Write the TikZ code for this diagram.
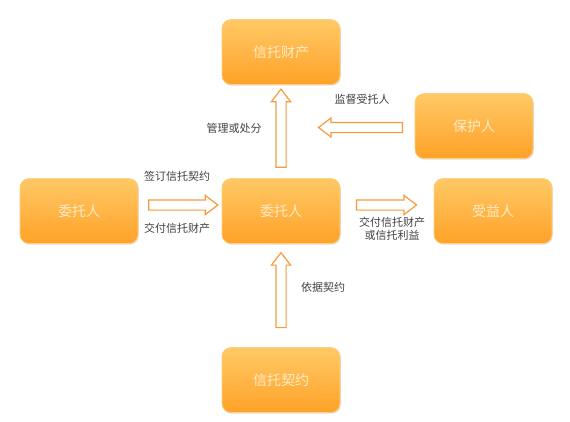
\documentclass[tikz,border=0pt]{standalone}
\usepackage{fontspec}
\setmainfont{Noto Sans CJK SC}
\usetikzlibrary{shapes.arrows, shadows, calc}
\definecolor{boxtop}{HTML}{FFC966}
\definecolor{boxbot}{HTML}{FFA228}
\definecolor{boxline}{HTML}{FFCF80}
\definecolor{arrline}{HTML}{F79A3E}
\definecolor{boxtext}{HTML}{FFEBC8}
\definecolor{labtext}{HTML}{404040}

\begin{document}
\begin{tikzpicture}[x=1pt, y=-1pt,
  party/.style={rectangle, rounded corners=9pt, minimum width=118pt, minimum height=65pt,
    top color=boxtop, bottom color=boxbot, draw=boxline, line width=0.6pt,
    drop shadow={opacity=0.25, shadow xshift=0.8pt, shadow yshift=-1.2pt},
    text=boxtext, font=\fontsize{14}{16}\selectfont},
  hollow/.style={single arrow, draw=arrline, fill=white, line width=1.2pt,
    inner xsep=0pt, inner ysep=4.5pt, minimum width=18pt,
    single arrow head extend=4.5pt, single arrow tip angle=75,
    sloped, allow upside down},
  lab/.style={text=labtext, font=\fontsize{11}{13}\selectfont, inner sep=0pt}]
\useasboundingbox (0,0) rectangle (570,421);

% the five parties
\node[party] (prop) at (281, 52) {信托财产};
\node[party] (mid) at (281, 211) {委托人};
\node[party] (settlor) at (79, 211) {委托人};
\node[party] (ben) at (493, 211) {受益人};
\node[party] (prot) at (474, 126) {保护人};
\node[party] (deed) at (281, 380) {信托契约};

% hollow arrows between them
\path (mid.north) -- node[hollow, minimum height=78pt] (upone) {} (prop.south);
\path ([yshift=-1.5pt]prot.west) -- node[hollow, pos=0.38, minimum height=84pt] (leftarr) {} ([yshift=-1.5pt]prot.west -| upone.center);
\path ([yshift=6pt]settlor.east) -- node[hollow, minimum height=69pt] (rightone) {} ([yshift=6pt]mid.west);
\path ([yshift=6pt]mid.east) -- node[hollow, pos=0.46, minimum height=60pt] (righttwo) {} ([yshift=6pt]ben.west);
\path (deed.north) -- node[hollow, pos=0.52, minimum height=75pt] (uptwo) {} (mid.south);

% labels
\node[lab] (manage) at (234, 128) {管理或处分};
\node[lab] (watch) at (362, 99) {监督受托人};
\node[lab] (sign) at (177, 176) {签订信托契约};
\node[lab] (hand) at (177, 228) {交付信托财产};
\node[lab, align=center] (give) at (392, 229) {交付信托财产\\或信托利益};
\node[lab] (accord) at (323, 287) {依据契约};
\end{tikzpicture}
\end{document}
